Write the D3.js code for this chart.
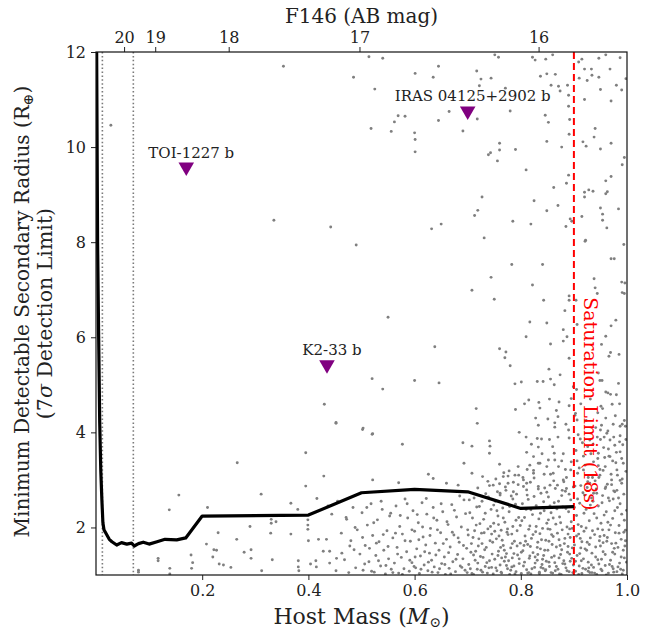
<!DOCTYPE html>
<html>
<head>
<meta charset="utf-8">
<script src="https://cdn.jsdelivr.net/npm/d3@7"></script>
<style>
  body { margin: 0; background: #fff; }
</style>
</head>
<body>
<div id="chart"></div>
<script>
const FONT = "'DejaVu Serif', 'Liberation Serif', serif";

// detection limit curve (host mass vs minimum radius)
const limitMass = [0.001, 0.003, 0.005, 0.007, 0.009, 0.011, 0.013, 0.015, 0.02, 0.025, 0.03, 0.039, 0.048, 0.058, 0.067, 0.072, 0.08, 0.089, 0.1, 0.115, 0.13, 0.152, 0.169, 0.2, 0.4, 0.5, 0.6, 0.7, 0.8, 0.9];
const limitRadius = [12.5, 8, 6, 4.2, 3.2, 2.6, 2.1, 1.95, 1.85, 1.75, 1.7, 1.63, 1.68, 1.65, 1.67, 1.61, 1.66, 1.69, 1.65, 1.7, 1.75, 1.74, 1.78, 2.24, 2.26, 2.73, 2.8, 2.75, 2.4, 2.44];

// known planets
const planetNames = ["TOI-1227 b", "IRAS 04125+2902 b", "K2-33 b"];
const planetMass = [0.17, 0.70, 0.435];
const planetRadius = [9.58, 10.76, 5.42];

// vertical reference lines
const dottedMass = [0.012, 0.0703];
const saturationMass = 0.9;

// top axis: F146 magnitude ticks placed at host mass
const magLabels = ["20", "19", "18", "17", "16"];
const magMass = [0.0529, 0.1115, 0.2499, 0.4962, 0.8335];

const massTicks = [0.2, 0.4, 0.6, 0.8, 1.0];
const radiusTicks = [2, 4, 6, 8, 10, 12];

// field population (mass, radius)
const fieldSparse = [
  [0.353,11.70],[0.485,11.47],[0.028,10.46],[0.335,8.46],[0.442,8.32],
  [0.49,7.94],[0.43,4.59],[0.452,4.21],[0.502,4.06],[0.266,3.36],
  [0.514,11.90],[0.540,11.87],[0.645,11.70],[0.601,11.55],[0.635,11.47],[0.717,11.60],[0.725,11.43],[0.744,11.45],
  [0.722,11.29],[0.751,11.94],[0.758,11.89],[0.822,11.89],[0.827,11.83],[0.847,11.85],[0.860,11.94],[0.837,11.49],
  [0.849,11.54],[0.865,11.53],[0.857,11.30],[0.871,11.28],[0.874,11.18],[0.888,11.30],[0.890,11.09],[0.525,11.22],
  [0.771,11.24],[0.665,10.75],[0.569,10.66],[0.582,10.65],[0.562,10.53],[0.645,10.56],[0.718,10.59],[0.780,10.76],
  [0.846,10.67],[0.852,10.52],[0.890,10.86],[0.892,10.58],[0.518,10.39],[0.556,10.33],[0.600,10.30],[0.601,10.16],
  [0.691,10.34],[0.601,9.90],[0.760,10.08],[0.760,9.94],[0.790,9.95],[0.743,9.88],[0.739,9.84],[0.756,9.71],
  [0.810,9.52],[0.849,10.12],[0.877,10.00],[0.891,10.27],[0.890,9.41],[0.886,9.24],[0.862,9.15],[0.727,8.95],
  [0.825,8.87],[0.870,8.77],[0.849,8.66],[0.719,8.67],[0.713,8.56],[0.785,8.44],[0.819,8.38],[0.650,8.38],
  [0.632,8.28],[0.731,8.09],[0.893,8.49],[0.885,8.33],[0.896,8.44],
  [0.909,11.79],[0.915,11.85],[0.947,11.87],[0.960,11.94],[0.987,11.88],[0.920,11.64],[0.933,11.64],[0.968,11.64],
  [0.910,11.45],[0.925,11.40],[0.934,11.51],[0.947,11.47],[0.950,11.21],[0.980,11.30],[0.990,11.20],[0.970,10.97],
  [0.920,11.00],[0.998,11.44],[0.940,10.39],[0.938,10.21],[0.917,10.11],[0.923,10.02],[0.970,10.08],[0.950,9.96],
  [0.995,9.78],[0.991,9.63],[0.970,9.38],[0.960,9.29],[0.963,9.06],[0.960,9.02],[0.928,9.10],[0.936,9.07],
  [0.920,9.05],[0.920,8.95],[0.950,8.72],[0.984,8.70],[0.954,8.59],[0.915,8.54],[0.954,8.46],[0.962,8.30],[0.922,8.04],
  [0.921,8.02],[0.994,7.95],[0.970,7.65],[0.976,7.65],[0.783,7.53],[0.841,7.53],[0.744,7.26],[0.938,7.23],
  [0.822,7.10],[0.940,7.04],[0.990,7.16],[0.996,7.14],[0.708,6.99],[0.750,6.80],[0.843,6.78],[0.891,6.87],
  [0.891,6.78],[0.944,6.92],[0.991,6.94],[0.995,6.92],[0.550,6.42],[0.883,6.56],[0.817,6.32],[0.849,6.30],
  [0.904,6.78],[0.906,6.27],[0.979,6.36],[0.970,6.24],[0.880,6.16],[0.887,6.01],[0.880,5.92],[0.810,6.01],
  [0.856,5.86],[0.960,6.02],[0.952,5.85],[0.638,5.80],[0.760,5.76],[0.772,5.69],[0.770,5.57],[0.891,5.56],
  [0.969,5.68],[0.966,5.60],[0.985,5.64],[0.780,5.40],[0.853,5.33],[0.946,5.25],[0.874,5.21],[0.520,5.13],
  [0.600,5.09],[0.646,5.04],[0.540,4.91],[0.789,5.02],[0.801,5.06],[0.831,5.07],[0.842,5.07],[0.856,5.12],
  [0.863,5.00],[0.899,4.96],[0.905,4.90],[0.949,5.09],[0.953,5.09],[0.984,5.03],[0.960,4.85],[0.964,4.83],
  [0.980,4.79],[0.972,4.59],[0.815,4.68],[0.807,4.60],[0.834,4.63],[0.854,4.70],[0.872,4.64],[0.895,4.71],
  [0.891,4.56],[0.716,4.50],[0.790,4.48],[0.836,4.51],[0.867,4.46],[0.828,4.30],[0.851,4.28],[0.870,4.33],
  [0.864,4.20],[0.833,4.15],[0.885,4.17],[0.902,4.36],[0.906,4.26],[0.718,4.19],[0.797,4.00],[0.520,3.96],
  [0.810,3.90],[0.831,3.87],[0.839,3.86],[0.854,3.85],[0.864,4.11],[0.891,3.88],[0.950,4.05],[0.964,4.03],
  [0.974,4.17],[0.991,4.17],[0.997,4.13],[0.987,3.93],[0.957,3.90],[0.912,3.86],[0.954,4.50],[0.945,4.41],
  [0.452,4.19],[0.503,4.09],[0.521,3.97],[0.395,3.57],[0.577,3.75],[0.691,3.78],[0.708,3.71],[0.741,3.82],
  [0.742,3.71],[0.741,3.56],[0.833,3.69],[0.863,3.56],[0.852,3.42],[0.849,3.28],[0.877,3.40],[0.894,3.21],
  [0.811,3.58],[0.824,3.49],[0.817,3.31],[0.836,3.35],[0.795,3.28],[0.778,3.19],[0.789,3.10],[0.767,3.07],
  [0.760,3.33],[0.693,3.35],[0.708,3.14],[0.728,3.07],[0.626,3.12],[0.635,3.03],[0.570,2.94],[0.521,3.00],
  [0.429,3.08],[0.395,2.87],[0.660,2.93],[0.682,2.89],[0.748,2.89],[0.776,2.93],[0.805,3.00],[0.824,3.14],
  [0.861,3.14],[0.880,3.00],[0.855,2.89],[0.833,2.86],[0.886,2.82],[0.811,2.79],[0.786,2.75],[0.761,2.72],[0.736,2.63],
  [0.952,4.15],[0.987,4.13],[0.962,3.98],[0.930,3.84],[0.977,3.73],[0.946,3.56],[0.968,3.49],[0.987,3.59],
  [0.937,3.38],[0.959,3.28],[0.981,3.21],[0.993,3.35],[0.949,3.10],[0.971,3.00],[0.990,2.93],[0.959,2.82],
  [0.977,2.75],[0.943,2.72],[0.930,2.93],[0.918,3.21]
];

const fieldLowMass = [
  [0.156,2.68],[0.138,2.37],[0.21,2.42],[0.311,2.70],[0.367,2.51],[0.38,2.38],[0.416,2.61],[0.437,2.45],[0.444,2.28],
  [0.33,2.17],[0.33,2.09],[0.339,2.12],[0.329,1.88],[0.399,2.16],[0.399,2.05],[0.399,1.96],[0.367,1.86],[0.4,1.72],
  [0.419,1.75],[0.434,1.75],[0.23,1.89],[0.265,1.75],[0.29,2.02],[0.208,1.65],[0.222,1.53],[0.227,1.52],[0.279,1.48],
  [0.292,1.53],[0.292,1.35],[0.332,1.32],[0.22,1.38],[0.232,1.23],[0.24,1.21],[0.254,1.16],[0.312,1.09],[0.179,1.42],
  [0.182,1.26],[0.18,1.14],[0.139,1.14],[0.139,1.02],[0.117,1.35],[0.117,1.30],[0.08,1.1],[0.08,1.06],[0.381,1.3],
  [0.381,1.17],[0.382,1.09],[0.404,1.23],[0.414,1.30],[0.415,1.17],[0.428,1.5],[0.44,1.5],[0.44,1.25],[0.453,1.35],
  [0.452,1.09],[0.463,1.46],[0.478,1.61],[0.486,1.53],[0.472,2.17],[0.488,2.0]
];

const fieldDense = [
  [0.455,2.55],[0.462,1.88],[0.468,1.32],[0.471,2.21],[0.476,1.05],[0.48,1.72],[0.484,2.42],[0.489,1.15],[0.492,1.95],
  [0.497,1.44],[0.501,2.31],[0.503,1.1],[0.507,1.62],[0.511,2.05],[0.514,1.28],[0.518,2.5],[0.521,1.83],[0.524,1.06],
  [0.527,1.41],[0.53,2.16],[0.533,1.7],[0.536,1.19],[0.539,2.38],[0.542,1.52],[0.545,1.02],[0.548,1.93],[0.551,1.34],
  [0.553,2.24],[0.556,1.12],[0.559,1.78],
  [0.562,1.25],[0.565,2.45],[0.567,1.58],[0.57,1.04],[0.572,2.02],[0.575,1.37],[0.577,1.86],[0.58,1.13],[0.582,2.6],
  [0.585,1.49],[0.587,2.2],[0.59,1.08],[0.592,1.71],[0.595,1.26],[0.597,2.35],[0.6,1.92],[0.602,1.15],[0.604,1.55],
  [0.607,2.1],[0.609,1.03],[0.611,1.4],[0.614,2.52],[0.616,1.8],[0.618,1.21],[0.621,1.63],[0.623,2.28],[0.625,1.09],
  [0.628,1.46],[0.63,1.98],[0.632,1.31],[0.635,2.42],[0.637,1.17],[0.639,1.67],[0.642,2.15],[0.644,1.05],[0.646,1.52],
  [0.649,1.89],[0.651,1.24],[0.653,2.33],[0.656,1.38],[0.658,1.01],[0.66,1.75],[0.663,2.06],[0.665,1.14],[0.667,1.59],
  [0.67,2.48],[0.672,1.28],[0.674,1.84],[0.677,1.07],[0.679,2.22],[0.681,1.43],[0.684,1.69],[0.686,1.19],[0.688,2.01],
  [0.691,1.34],[0.693,2.58],[0.695,1.1],[0.698,1.56],[0.7,1.95],
  [0.702,1.22],[0.704,2.31],[0.706,1.48],[0.708,1.03],[0.71,1.79],[0.712,2.62],[0.714,1.31],[0.716,2.05],[0.718,1.12],
  [0.72,1.61],[0.722,2.44],[0.724,1.39],[0.726,1.88],[0.728,1.06],[0.73,2.17],[0.732,1.53],[0.734,2.71],[0.736,1.26],
  [0.738,1.97],[0.74,1.15],[0.742,1.72],[0.744,2.38],[0.746,1.44],[0.748,1.02],[0.749,2.09],[0.733,1.18],[0.719,2.83],
  [0.741,2.88],[0.727,1.66],[0.711,1.42],[0.745,1.86],
  [0.751,1.33],[0.752,2.55],[0.754,1.76],[0.755,1.09],[0.757,2.24],[0.758,1.5],[0.76,2.92],[0.761,1.21],[0.763,1.94],
  [0.764,1.04],[0.766,2.41],[0.767,1.62],[0.769,1.29],[0.77,2.11],[0.772,2.78],[0.773,1.45],[0.775,1.13],[0.776,1.85],
  [0.778,2.33],[0.779,1.01],[0.781,1.57],[0.782,2.66],[0.784,1.36],[0.785,2.02],[0.787,1.19],[0.788,1.71],[0.79,2.49],
  [0.791,1.07],[0.793,1.93],[0.794,1.42],[0.796,2.21],[0.797,1.24],[0.799,1.67],[0.753,3.02],[0.768,3.15],[0.786,2.95],
  [0.762,1.58],[0.774,1.9],[0.783,1.17],[0.792,2.7],[0.758,2.06],[0.771,1.38],
  [0.801,1.03],[0.802,2.14],[0.804,1.51],[0.805,2.86],[0.807,1.27],[0.808,1.82],[0.81,2.38],[0.811,1.11],[0.813,1.64],
  [0.814,2.59],[0.816,1.35],[0.817,2.03],[0.819,1.02],[0.82,1.77],[0.822,2.27],[0.823,1.47],[0.825,3.04],[0.826,1.16],
  [0.828,1.91],[0.829,2.46],[0.831,1.31],[0.832,1.69],[0.834,2.18],[0.835,1.06],[0.837,1.55],[0.838,2.72],[0.84,1.22],
  [0.841,1.98],[0.843,1.41],[0.844,2.35],[0.846,1.09],[0.847,1.73],[0.849,2.09],[0.812,3.22],[0.833,3.35],[0.818,2.95],
  [0.845,2.83],[0.806,1.62],[0.827,1.38],[0.836,1.87],[0.842,1.14],[0.815,1.05],[0.848,1.29],
  [0.851,1.52],[0.852,2.64],[0.854,1.18],[0.855,1.96],[0.857,2.31],[0.858,1.37],[0.86,1.04],[0.861,1.81],[0.863,2.52],
  [0.864,1.26],[0.866,2.07],[0.867,1.59],[0.869,2.89],[0.87,1.12],[0.872,1.74],[0.873,2.22],[0.875,1.43],[0.876,1.01],
  [0.878,1.95],[0.879,2.43],[0.881,1.3],[0.882,1.66],[0.884,2.76],[0.885,1.15],[0.887,2.01],[0.888,1.48],[0.89,2.33],
  [0.891,1.07],[0.893,1.79],[0.894,2.58],[0.896,1.35],[0.897,1.98],[0.899,1.21],[0.856,3.12],[0.871,3.28],[0.886,3.05],
  [0.862,2.98],[0.874,1.62],[0.889,1.86],[0.865,1.09],[0.877,2.67],[0.892,1.44],[0.853,1.71],[0.868,2.39],[0.883,1.23],[0.895,3.38],
  [0.901,1.63],[0.902,2.87],[0.903,1.08],[0.905,2.25],[0.906,1.41],[0.907,3.14],[0.909,1.86],[0.91,1.19],[0.911,2.51],
  [0.913,1.57],[0.914,2.02],[0.915,1.03],[0.917,2.73],[0.918,1.34],[0.919,1.92],[0.921,3.31],[0.922,1.12],[0.923,2.38],
  [0.925,1.69],[0.926,2.96],[0.927,1.27],[0.929,2.14],[0.93,1.05],[0.931,1.78],[0.933,2.62],[0.934,1.46],[0.935,3.05],
  [0.937,1.16],[0.938,2.29],[0.939,1.85],[0.941,1.38],[0.942,2.81],[0.943,1.01],[0.945,1.97],[0.946,2.45],[0.947,1.23],
  [0.949,3.22],[0.95,1.61],[0.951,2.09],[0.953,1.09],[0.954,2.67],[0.955,1.49],[0.957,1.83],[0.958,3.47],[0.959,1.2],
  [0.961,2.33],[0.962,1.71],[0.963,2.91],[0.965,1.04],[0.966,1.95],[0.967,2.56],[0.969,1.31],[0.97,3.12],[0.971,1.66],
  [0.973,2.19],[0.974,1.13],[0.975,2.77],[0.977,1.44],[0.978,1.89],[0.979,3.36],[0.981,1.07],[0.982,2.42],[0.983,1.58],
  [0.985,2.04],[0.986,1.25],[0.987,2.99],[0.989,1.75],[0.99,2.28],[0.991,1.02],[0.993,1.52],[0.994,2.7],[0.995,1.36],
  [0.997,1.94],[0.998,3.18],[0.904,3.62],[0.916,3.78],[0.932,3.55],[0.944,3.9],[0.956,3.68],[0.968,3.84],[0.98,3.58],
  [0.992,3.74],[0.912,1.77],[0.928,1.15],[0.936,2.55],[0.948,1.72],[0.96,2.85],[0.972,1.18],[0.984,2.62],[0.996,1.61],
  [0.908,2.06],[0.924,1.52],[0.94,2.98],[0.952,1.33],[0.964,2.11],[0.976,1.56],[0.988,1.12],[0.92,2.68],[0.999,2.36]
];

const fieldDense2 = [
  [0.502,1.79],[0.506,1.23],[0.51,2.42],[0.515,1.56],[0.519,1.08],[0.523,2.1],[0.528,1.67],[0.532,1.3],[0.537,2.55],
  [0.541,1.85],[0.546,1.2],[0.55,1.6],[0.555,2.3],[0.559,1.05],[0.564,1.88],[0.568,1.44],[0.573,2.25],[0.577,1.01],
  [0.582,1.72],[0.586,2.5],[0.591,1.31],[0.595,1.95],[0.599,1.18],
  [0.601,1.38],[0.605,2.27],[0.608,1.74],[0.612,1.12],[0.615,2.01],[0.619,1.49],[0.622,2.61],[0.626,1.27],[0.629,1.83],
  [0.633,1.06],[0.636,2.2],[0.64,1.42],[0.643,1.95],[0.647,1.13],[0.65,2.5],[0.654,1.66],[0.657,1.22],[0.661,2.12],
  [0.664,1.47],[0.668,1.02],[0.671,1.9],[0.675,2.36],[0.678,1.33],[0.682,1.78],[0.685,2.66],[0.689,1.16],[0.692,1.62],
  [0.696,2.29],[0.699,1.05],
  [0.701,1.84],[0.703,2.58],[0.705,1.13],[0.707,1.66],[0.709,2.2],[0.711,1.01],[0.713,1.93],[0.715,1.5],[0.717,2.43],
  [0.719,1.25],[0.721,1.76],[0.723,2.08],[0.725,1.1],[0.727,2.55],[0.729,1.37],[0.731,1.89],[0.733,2.3],[0.735,1.58],
  [0.737,1.04],[0.739,2.64],[0.741,1.3],[0.743,2.02],[0.745,1.16],[0.747,1.69],[0.749,2.47],[0.751,1.92],[0.753,1.15],
  [0.755,2.35],[0.757,1.41],[0.759,1.82],[0.761,2.68],[0.763,1.06],[0.765,1.73],[0.767,2.2],[0.769,1.52],[0.771,2.85],
  [0.773,1.2],[0.775,1.97],[0.777,1.3],[0.779,2.44],[0.781,1.1],[0.783,1.86],[0.785,2.6],[0.787,1.45],[0.789,1.02],
  [0.791,2.15],[0.793,1.61],[0.795,2.9],[0.797,1.34],[0.799,2.04],[0.756,2.75],[0.776,3.08],[0.796,3.1],[0.738,2.97],
  [0.764,1.36],[0.784,1.66],
  [0.801,1.48],[0.803,2.5],[0.805,1.19],[0.807,2.21],[0.809,1.71],[0.811,2.93],[0.813,1.04],[0.815,1.96],[0.817,1.4],
  [0.819,2.37],[0.821,1.13],[0.823,1.85],[0.825,2.65],[0.827,1.25],[0.829,2.02],[0.831,1.58],[0.833,2.81],[0.835,1.03],
  [0.837,2.3],[0.839,1.74],[0.841,1.33],[0.843,2.54],[0.845,1.52],[0.847,1.11],[0.849,2.74],[0.851,1.97],[0.853,1.27],
  [0.855,2.45],[0.857,1.05],[0.859,1.64],[0.861,2.2],[0.863,1.4],[0.865,2.82],[0.867,1.18],[0.869,1.88],[0.871,2.55],
  [0.873,1.02],[0.875,2.1],[0.877,1.53],[0.879,1.24],[0.881,2.96],[0.883,1.77],[0.885,2.4],[0.887,1.09],[0.889,1.6],
  [0.891,2.7],[0.893,1.29],[0.895,2.12],[0.897,1.57],[0.899,2.85],[0.804,3.05],[0.824,3.2],[0.844,3.12],[0.864,3.42],
  [0.884,3.22],[0.818,1.6],[0.838,1.16],[0.858,1.85],[0.878,2.78],[0.898,1.05],[0.812,2.68],[0.832,1.43],[0.852,2.16],
  [0.872,1.36],[0.892,1.97],
  [0.901,2.42],[0.903,1.29],[0.905,1.82],[0.907,2.6],[0.909,1.01],[0.911,1.45],[0.913,2.88],[0.915,1.7],[0.917,1.14],
  [0.919,2.3],[0.921,1.55],[0.923,1.99],[0.925,2.84],[0.927,1.08],[0.929,1.64],[0.931,2.47],[0.933,1.21],[0.935,1.93],
  [0.937,2.72],[0.939,1.04],[0.941,1.59],[0.943,2.2],[0.945,1.32],[0.947,3.05],[0.949,1.81],[0.951,1.12],[0.953,2.52],
  [0.955,1.68],[0.957,2.26],[0.959,1.43],[0.961,1.0],[0.963,1.79],[0.965,2.62],[0.967,1.22],[0.969,2.05],[0.971,2.9],
  [0.973,1.48],[0.975,1.06],[0.977,2.35],[0.979,1.67],[0.981,2.78],[0.983,1.17],[0.985,1.88],[0.987,2.5],[0.989,1.38],
  [0.991,3.02],[0.993,1.1],[0.995,2.15],[0.997,1.72],[0.999,1.27],[0.906,3.4],[0.926,3.7],[0.946,3.3],[0.966,3.5],
  [0.986,3.8],[0.914,1.3],[0.934,1.05],[0.954,1.95],[0.974,2.6],[0.994,1.9],
  [0.903,4.4],[0.908,3.95],[0.913,4.6],[0.918,3.5],[0.923,4.25],[0.927,3.05],[0.931,4.7],[0.936,3.75],[0.941,4.1],
  [0.945,3.45],[0.951,4.55],[0.955,3.2],[0.96,4.3],[0.965,3.65],[0.969,4.8],[0.973,3.4],[0.978,4.35],[0.982,3.1],
  [0.986,4.6],[0.99,3.45],[0.995,4.25],[0.998,3.85],[0.91,3.25],[0.95,3.85],[0.975,3.9],[0.86,3.7],[0.87,3.9],
  [0.88,3.55],[0.84,3.55],[0.89,4.05],[0.82,3.75]
];

const width = 654, height = 633;
const margin = { top: 52, right: 27, bottom: 58, left: 96 };
const innerW = width - margin.left - margin.right;
const innerH = height - margin.top - margin.bottom;

const svg = d3.select("#chart").append("svg")
  .attr("width", width).attr("height", height)
  .attr("font-family", FONT);

const g = svg.append("g")
  .attr("transform", `translate(${margin.left},${margin.top})`);

const x = d3.scaleLinear().domain([0, 1]).range([0, innerW]);
const y = d3.scaleLinear().domain([1, 12]).range([innerH, 0]);

svg.append("defs").append("clipPath").attr("id", "plotclip")
  .append("rect").attr("width", innerW).attr("height", innerH);

const plot = g.append("g").attr("clip-path", "url(#plotclip)");

// scatter of field stars
const field = fieldSparse.concat(fieldLowMass, fieldDense, fieldDense2);
plot.selectAll("circle.field")
  .data(field)
  .enter().append("circle")
  .attr("class", "field")
  .attr("cx", d => x(d[0]))
  .attr("cy", d => y(d[1]))
  .attr("r", 1.45)
  .attr("fill", "#7f7f7f");

// dotted verticals
plot.selectAll("line.dot")
  .data(dottedMass)
  .enter().append("line")
  .attr("x1", d => x(d)).attr("x2", d => x(d))
  .attr("y1", 0).attr("y2", innerH)
  .attr("stroke", "#7a7a7a")
  .attr("stroke-width", 1.6)
  .attr("stroke-dasharray", "1.5,2.4");

// saturation limit
plot.append("line")
  .attr("x1", x(saturationMass)).attr("x2", x(saturationMass))
  .attr("y1", 0).attr("y2", innerH)
  .attr("stroke", "#ff0000")
  .attr("stroke-width", 2)
  .attr("stroke-dasharray", "7,4");

// detection limit curve
const line = d3.line()
  .x((d, i) => x(limitMass[i]))
  .y((d, i) => y(limitRadius[i]));

plot.append("path")
  .datum(limitMass)
  .attr("d", line)
  .attr("fill", "none")
  .attr("stroke", "#000")
  .attr("stroke-width", 3.2)
  .attr("stroke-linejoin", "round");

// planets
const tri = d3.symbol().type(d3.symbolTriangle).size(105);
planetNames.forEach((name, i) => {
  const px = x(planetMass[i]), py = y(planetRadius[i]);
  g.append("path")
    .attr("d", tri)
    .attr("transform", `translate(${px},${py}) rotate(180)`)
    .attr("fill", "#800080");
  g.append("text")
    .attr("x", px + 5).attr("y", py - 9.5)
    .attr("text-anchor", "middle")
    .attr("font-size", 15)
    .attr("fill", "#222")
    .text(name);
});

// saturation label
g.append("text")
  .attr("transform", `translate(${x(saturationMass) + 10},${y(4.6)}) rotate(90)`)
  .attr("text-anchor", "middle")
  .attr("font-size", 19)
  .attr("fill", "#ff0000")
  .text("Saturation Limit (18s)");

// axes
const xAxis = d3.axisBottom(x).tickValues(massTicks).tickFormat(d3.format(".1f")).tickSizeOuter(0).tickSize(5).tickPadding(5);
const yAxis = d3.axisLeft(y).tickValues(radiusTicks).tickFormat(d3.format("d")).tickSizeOuter(0).tickSize(5).tickPadding(5);
const topAxis = d3.axisTop(x).tickValues(magMass).tickFormat((d, i) => magLabels[i]).tickSizeOuter(0).tickSize(5).tickPadding(4);

const gx = g.append("g").attr("transform", `translate(0,${innerH})`).call(xAxis);
const gy = g.append("g").call(yAxis);
const gt = g.append("g").call(topAxis);

[gx, gy, gt].forEach(a => {
  a.attr("font-family", FONT);
  a.select(".domain").remove();
  a.selectAll("text").attr("font-size", 16).attr("fill", "#222");
  a.selectAll("line").attr("stroke", "#222");
});

// frame
g.append("rect")
  .attr("width", innerW).attr("height", innerH)
  .attr("fill", "none").attr("stroke", "#111").attr("stroke-width", 1.2);

// axis titles
const xt = svg.append("text")
  .attr("x", margin.left + innerW / 2).attr("y", 624)
  .attr("text-anchor", "middle").attr("font-size", 22).attr("fill", "#222");
xt.append("tspan").text("Host Mass (");
xt.append("tspan").attr("font-style", "italic").text("M");
xt.append("tspan").attr("font-size", 14).attr("dy", 3).text("⊙");
xt.append("tspan").attr("dy", -3).text(")");

svg.append("text")
  .attr("x", margin.left + innerW / 2).attr("y", 23)
  .attr("text-anchor", "middle").attr("font-size", 20).attr("fill", "#222")
  .text("F146 (AB mag)");

const yt1 = svg.append("text")
  .attr("transform", `translate(29,${margin.top + innerH / 2 - 2}) rotate(-90)`)
  .attr("text-anchor", "middle").attr("font-size", 20).attr("fill", "#222");
yt1.append("tspan").text("Minimum Detectable Secondary Radius (R");
yt1.append("tspan").attr("font-size", 14).attr("dy", 4).text("⊕");
yt1.append("tspan").attr("dy", -4).text(")");

const yt2 = svg.append("text")
  .attr("transform", `translate(52,${margin.top + innerH / 2}) rotate(-90)`)
  .attr("text-anchor", "middle").attr("font-size", 20.5).attr("fill", "#222");
yt2.append("tspan").text("(7");
yt2.append("tspan").attr("font-style", "italic").text("σ");
yt2.append("tspan").text(" Detection Limit)");
</script>
</body>
</html>
